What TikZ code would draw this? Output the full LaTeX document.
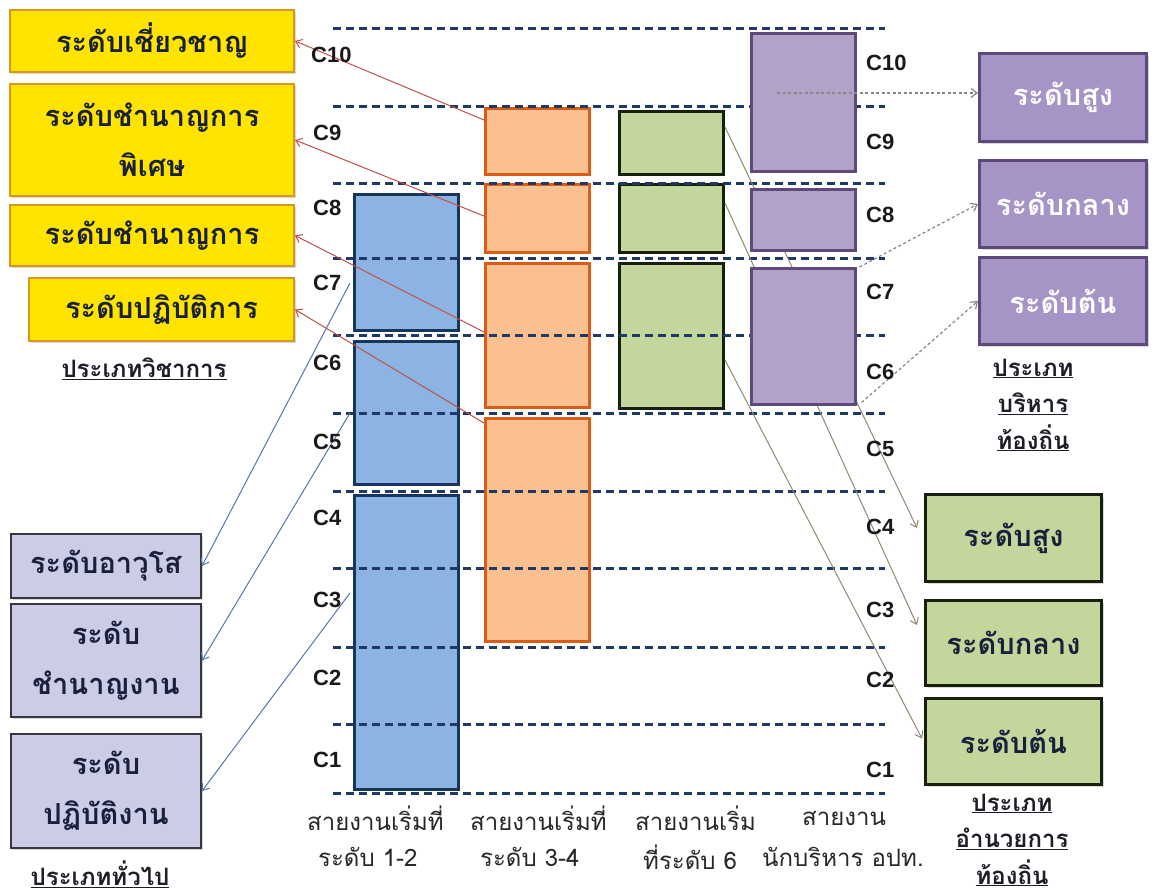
\documentclass[tikz,border=0pt]{standalone}
\usepackage{fontspec}
\setmainfont{Liberation Sans}
\newfontfamily\thai[Script=Thai]{Loma}
\usetikzlibrary{arrows.meta,shadows}
\definecolor{yfill}{RGB}{255,228,0}
\definecolor{ydraw}{RGB}{218,150,30}
\definecolor{bfill}{RGB}{141,179,226}
\definecolor{bdraw}{RGB}{23,54,93}
\definecolor{ofill}{RGB}{250,192,144}
\definecolor{odraw}{RGB}{218,92,22}
\definecolor{gfill}{RGB}{195,214,155}
\definecolor{gdraw}{RGB}{22,32,12}
\definecolor{pfill}{RGB}{179,162,199}
\definecolor{pdraw}{RGB}{95,73,122}
\definecolor{rpfill}{RGB}{166,148,198}
\definecolor{lfill}{RGB}{204,204,230}
\definecolor{ldraw}{RGB}{55,55,65}
\definecolor{dline}{RGB}{31,56,100}
\definecolor{redarr}{RGB}{192,80,77}
\definecolor{bluearr}{RGB}{85,120,170}
\definecolor{grayarr}{RGB}{140,140,115}
\definecolor{dotarr}{RGB}{135,135,135}
\definecolor{tnavy}{RGB}{25,32,60}
\begin{document}
\begin{tikzpicture}[x=1pt,y=-1pt,
  colbox/.style={line width=2.5pt, minimum width=104pt, inner sep=0pt, anchor=north west},
  bluecol/.style={colbox, draw=bdraw, fill=bfill},
  orangecol/.style={colbox, draw=odraw, fill=ofill},
  greencol/.style={colbox, draw=gdraw, fill=gfill, line width=3pt},
  purplecol/.style={colbox, draw=pdraw, fill=pfill},
  boxlab/.style={font=\thai\bfseries\fontsize{29}{50}\selectfont, align=center, inner sep=0pt, anchor=north west},
  shad/.style={drop shadow={opacity=0.3, shadow xshift=2pt, shadow yshift=-2pt}},
  yellowbox/.style={boxlab, shad, draw=ydraw, fill=yfill, line width=2pt, text=tnavy},
  lavbox/.style={boxlab, shad, draw=ldraw, fill=lfill, line width=2pt, text=tnavy, minimum width=190pt},
  rpbox/.style={boxlab, shad, draw=pdraw, fill=rpfill, line width=3pt, text=white, minimum width=167pt},
  rgbox/.style={boxlab, shad, draw=gdraw, fill=gfill, line width=3pt, text=tnavy, minimum width=176pt},
  dashline/.style={draw=dline, line width=3pt, dash pattern=on 8pt off 5pt},
  clab/.style={font=\bfseries\fontsize{22}{22}\selectfont, text={rgb,255:red,25;green,25;blue,25}, anchor=west, inner sep=0pt},
  botlab/.style={font=\thai\fontsize{24}{28}\selectfont, text={rgb,255:red,40;green,40;blue,40}, anchor=west, inner sep=0pt},
  catlab/.style={font=\thai\bfseries\fontsize{24}{36.5}\selectfont, text={rgb,255:red,30;green,30;blue,40}, align=center, inner sep=0pt},
  barb/.style={-{Straight Barb[length=6pt,width=9pt]}},
  redline/.style={barb, draw=redarr, line width=1pt},
  blueline/.style={barb, draw=bluearr, line width=1pt},
  grayline/.style={barb, draw=grayarr, line width=1pt},
  dotline/.style={barb, draw=dotarr, line width=1.2pt, dash pattern=on 3pt off 2.5pt}
]
\useasboundingbox (0,0) rectangle (1156,894);
\fill[white] (0,0) rectangle (1156,894);

% left yellow boxes
\node[yellowbox, minimum width=284pt, minimum height=62pt] (y1) at (9,9) {ระดับเชี่ยวชาญ};
\node[yellowbox, minimum width=284pt, minimum height=112pt] (y2) at (9,83) {ระดับชำนาญการ\\พิเศษ};
\node[yellowbox, minimum width=284pt, minimum height=61pt] (y3) at (9,204) {ระดับชำนาญการ};
\node[yellowbox, minimum width=265pt, minimum height=63pt] (y4) at (28,277) {ระดับปฏิบัติการ};
\node[catlab] (catA) at (144,369) {\underline{ประเภทวิชาการ}};

% left lavender boxes
\node[lavbox, minimum height=64pt] (l1) at (10,533) {ระดับอาวุโส};
\node[lavbox, minimum height=113pt] (l2) at (10,603) {ระดับ\\ชำนาญงาน};
\node[lavbox, minimum height=114pt] (l3) at (10,733) {ระดับ\\ปฏิบัติงาน};
\node[catlab] (catB) at (100,874) {\underline{ประเภททั่วไป}};

% columns (under dashed lines)
\node[bluecol, minimum height=136pt] (b1) at (353,193) {};
\node[bluecol, minimum height=143pt] (b2) at (353,340) {};
\node[bluecol, minimum height=294pt] (b3) at (353,494) {};
\node[orangecol, minimum height=66pt] (o1) at (484,107) {};
\node[orangecol, minimum height=68pt] (o2) at (484,183) {};
\node[orangecol, minimum height=144pt] (o3) at (484,262) {};
\node[orangecol, minimum height=223pt] (o4) at (484,417) {};
\node[greencol, minimum height=63pt] (g1) at (618,110) {};
\node[greencol, minimum height=68pt] (g2) at (618,183) {};
\node[greencol, minimum height=145pt] (g3) at (618,262) {};

% dashed level lines
\foreach \yy in {28,106,183,258,335,413,491,568,647,724,793}
  \draw[dashline] (333,\yy) -- (885,\yy);

% right green boxes
\node[rgbox, minimum height=87pt] (G1) at (924,493) {ระดับสูง};
\node[rgbox, minimum height=85pt] (G2) at (924,599) {ระดับกลาง};
\node[rgbox, minimum height=86pt] (G3) at (924,697) {ระดับต้น};
\node[catlab] (catD) at (1012,840) {\underline{ประเภท}\\\underline{อำนวยการ}\\\underline{ท้องถิ่น}};

% right purple boxes
\node[rpbox, minimum height=88pt] (R1) at (978,52) {ระดับสูง};
\node[rpbox, minimum height=87pt] (R2) at (978,159) {ระดับกลาง};
\node[rpbox, minimum height=87pt] (R3) at (978,256) {ระดับต้น};
\node[catlab] (catC) at (1033,405) {\underline{ประเภท}\\\underline{บริหาร}\\\underline{ท้องถิ่น}};

% gray arrows (behind purple column)
\draw[grayline] ([yshift=-17pt]g1.north east) -- ([xshift=-7pt,yshift=10pt]G1.west);
\draw[grayline] ([yshift=-20pt]g2.north east) -- ([xshift=-7pt,yshift=18pt]G2.west);
\draw[grayline] ([yshift=-98pt]g3.north east) -- ([xshift=-2pt,yshift=3pt]G3.west);

% purple column (over dashed lines)
\node[purplecol, minimum height=138pt] (p1) at (750,32) {};
\node[purplecol, minimum height=61pt] (p2) at (750,188) {};
\node[purplecol, minimum height=136pt] (p3) at (750,267) {};

% red arrows
\draw[redline] ([yshift=-13pt]o1.north west) -- (y1.east);
\draw[redline] ([yshift=-33pt]o2.north west) -- (y2.east);
\draw[redline] ([yshift=-70pt]o3.north west) -- (y3.east);
\draw[redline] ([yshift=-6pt]o4.north west) -- (y4.east);

% blue arrows
\draw[blueline] ([xshift=-3pt,yshift=-90pt]b1.north west) -- (l1.east);
\draw[blueline] ([xshift=-3pt,yshift=-73pt]b2.north west) -- (l2.east);
\draw[blueline] ([xshift=-3pt,yshift=-99pt]b3.north west) -- (l3.east);

% dotted arrows
\coordinate (d1) at (777,93);
\draw[dotline] (d1) -- (d1 -| R1.west);
\draw[dotline] ([xshift=3pt]p3.north east) -- (R2.west);
\draw[dotline] ([xshift=5pt,yshift=3pt]p3.south east) -- (R3.west);

% C labels left
\node[clab] (cl10) at (311,55) {C10};
\node[clab] (cl9) at (313,133) {C9};
\node[clab] (cl8) at (313,208) {C8};
\node[clab] (cl7) at (313,283) {C7};
\node[clab] (cl6) at (313,363) {C6};
\node[clab] (cl5) at (313,442) {C5};
\node[clab] (cl4) at (313,518) {C4};
\node[clab] (cl3) at (313,600) {C3};
\node[clab] (cl2) at (313,678) {C2};
\node[clab] (cl1) at (313,760) {C1};
% C labels right
\node[clab] (cr10) at (866,63) {C10};
\node[clab] (cr9) at (866,142) {C9};
\node[clab] (cr8) at (866,215) {C8};
\node[clab] (cr7) at (866,292) {C7};
\node[clab] (cr6) at (866,372) {C6};
\node[clab] (cr5) at (866,449) {C5};
\node[clab] (cr4) at (866,527) {C4};
\node[clab] (cr3) at (866,610) {C3};
\node[clab] (cr2) at (866,680) {C2};
\node[clab] (cr1) at (866,770) {C1};

% bottom column labels
\node[botlab] (t1a) at (307,818) {สายงานเริ่มที่};
\node[botlab] (t1b) at (318,857) {ระดับ 1-2};
\node[botlab] (t2a) at (470,818) {สายงานเริ่มที่};
\node[botlab] (t2b) at (480,857) {ระดับ 3-4};
\node[botlab] (t3a) at (635,818) {สายงานเริ่ม};
\node[botlab] (t3b) at (643,857) {ที่ระดับ 6};
\node[botlab] (t4a) at (802,818) {สายงาน};
\node[botlab] (t4b) at (762,857) {นักบริหาร อปท.};
\end{tikzpicture}
\end{document}
